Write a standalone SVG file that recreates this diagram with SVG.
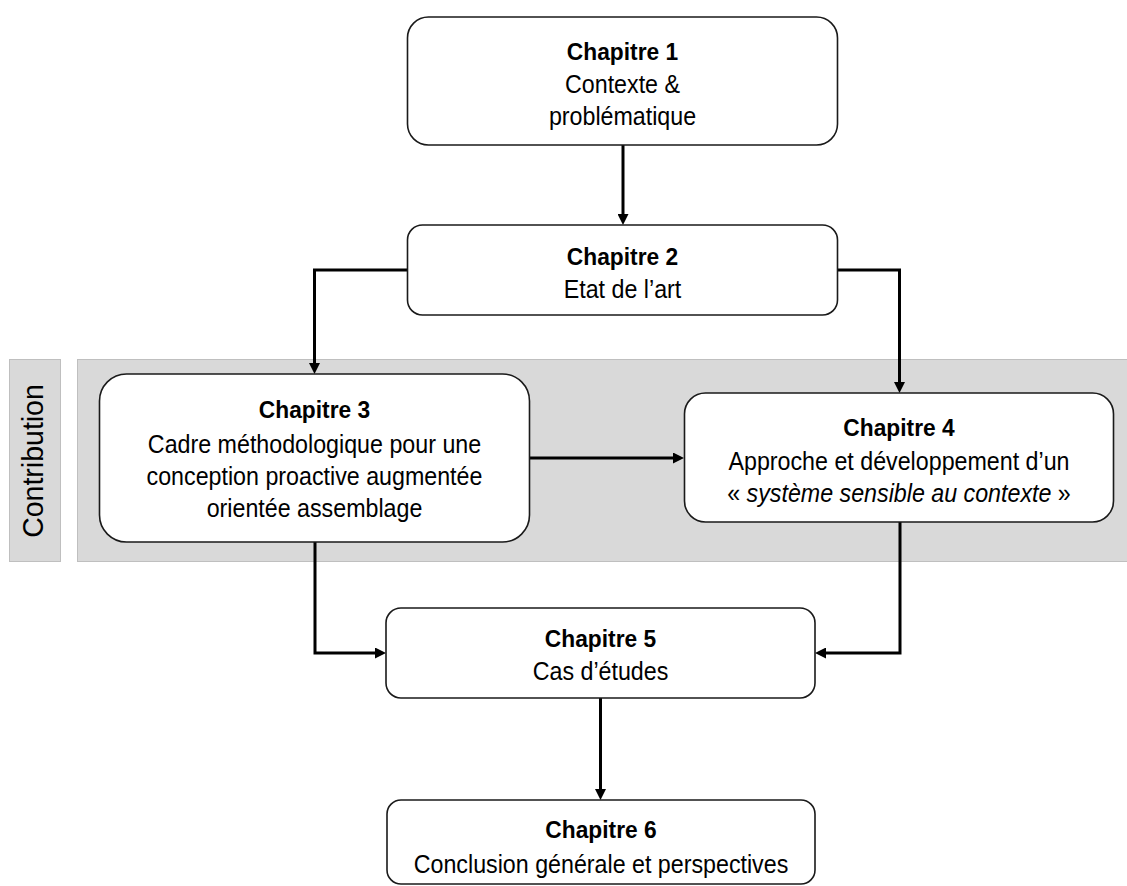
<svg xmlns="http://www.w3.org/2000/svg" width="1127" height="886" viewBox="0 0 1127 886">
<style>
.box{fill:#fff;stroke:#1a1a1a;stroke-width:1.6}
.band{fill:#d9d9d9;stroke:#bfbfbf;stroke-width:1}
.t{font-family:"Liberation Sans",Arial,sans-serif;font-size:25px;fill:#000;text-anchor:middle}
.b{font-weight:bold;font-size:24.5px}
.i{font-style:italic}
.c{fill:none;stroke:#000;stroke-width:3;stroke-linejoin:miter}
</style>
<defs>
<marker id="ah" markerUnits="userSpaceOnUse" markerWidth="11" markerHeight="11" refX="6" refY="5.5" orient="auto">
<path d="M0,0 L11,5.5 L0,11 z" fill="#000"/>
</marker>
</defs>
<rect fill="#fff" x="0" y="0" width="1127" height="886"/>
<g id="contribution-band">
<rect class="band" x="77.5" y="359.5" width="1050" height="202"/>
<rect class="band" x="9.5" y="359.5" width="51" height="202"/>
<text class="t" style="font-size:30px" transform="translate(43,461) rotate(-90) scale(0.95,1)">Contribution</text>
</g>
<g id="connectors">
<path class="c" d="M623,145 V220" marker-end="url(#ah)"/>
<path class="c" d="M407,270 H314.5 V369" marker-end="url(#ah)"/>
<path class="c" d="M838,270 H899.5 V388" marker-end="url(#ah)"/>
<path class="c" d="M529,458 H679" marker-end="url(#ah)"/>
<path class="c" d="M315,542 V653 H381" marker-end="url(#ah)"/>
<path class="c" d="M900,522 V653 H820" marker-end="url(#ah)"/>
<path class="c" d="M600.5,698 V795" marker-end="url(#ah)"/>
</g>
<g id="chapitre1">
<rect class="box" x="407.5" y="17" width="430" height="128" rx="21"/>
<g transform="translate(622.5,0) scale(0.93,1)">
<text class="t b" x="0" y="60">Chapitre 1</text>
<text class="t" x="0" y="93">Contexte &amp;</text>
<text class="t" x="0" y="125">problématique</text>
</g>
</g>
<g id="chapitre2">
<rect class="box" x="407.5" y="225" width="430" height="90" rx="15"/>
<g transform="translate(622.5,0) scale(0.93,1)">
<text class="t b" x="0" y="265">Chapitre 2</text>
<text class="t" x="0" y="298">Etat de l’art</text>
</g>
</g>
<g id="chapitre3">
<rect class="box" x="99.5" y="374" width="430" height="168" rx="27"/>
<g transform="translate(314.5,0) scale(0.93,1)">
<text class="t b" x="0" y="418">Chapitre 3</text>
<text class="t" x="0" y="453">Cadre méthodologique pour une</text>
<text class="t" x="0" y="485">conception proactive augmentée</text>
<text class="t" x="0" y="517">orientée assemblage</text>
</g>
</g>
<g id="chapitre4">
<rect class="box" x="684.5" y="393" width="429" height="129" rx="21"/>
<g transform="translate(899,0) scale(0.93,1)">
<text class="t b" x="0" y="436">Chapitre 4</text>
<text class="t" x="0" y="470">Approche et développement d’un</text>
<text class="t" x="0" y="502">« <tspan class="i">système sensible au contexte</tspan> »</text>
</g>
</g>
<g id="chapitre5">
<rect class="box" x="386" y="608" width="429" height="90" rx="15"/>
<g transform="translate(600.5,0) scale(0.93,1)">
<text class="t b" x="0" y="647">Chapitre 5</text>
<text class="t" x="0" y="680">Cas d’études</text>
</g>
</g>
<g id="chapitre6">
<rect class="box" x="387" y="800" width="428" height="84" rx="14"/>
<g transform="translate(601,0) scale(0.93,1)">
<text class="t b" x="0" y="838">Chapitre 6</text>
<text class="t" x="0" y="873">Conclusion générale et perspectives</text>
</g>
</g>
</svg>
